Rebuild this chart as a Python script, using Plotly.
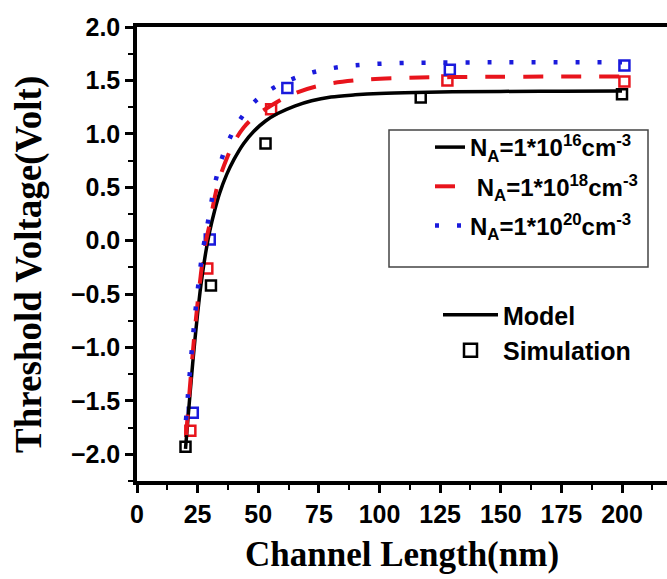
import plotly.graph_objects as go

# Model curves
x_m16 = [20, 21, 22, 23, 24, 25, 26, 27, 28.5, 30, 32, 34, 37, 40, 44, 48, 53, 58, 65, 72, 80, 90, 100, 115, 130, 150, 175, 200]
y_m16 = [-1.95, -1.67, -1.40, -1.14, -0.90, -0.68, -0.48, -0.31, -0.09, 0.09, 0.28, 0.44, 0.62, 0.76, 0.91, 1.02, 1.12, 1.19, 1.26, 1.31, 1.345, 1.365, 1.378, 1.388, 1.393, 1.397, 1.399, 1.40]

x_m18 = [20.3, 21, 22, 23, 24, 25, 26, 27, 28.5, 30, 32, 34, 37, 40, 44, 49, 55, 63, 75, 90, 110, 130, 160, 200]
y_m18 = [-1.82, -1.60, -1.32, -1.05, -0.80, -0.58, -0.38, -0.20, 0.0, 0.16, 0.40, 0.58, 0.77, 0.92, 1.06, 1.17, 1.26, 1.36, 1.45, 1.50, 1.523, 1.531, 1.535, 1.536]

x_m20 = [20.2, 21, 22, 23, 24, 25, 26, 27, 28.5, 30, 32, 35, 38.5, 43, 49, 57, 66, 75, 85, 95, 110, 130, 160, 200]
y_m20 = [-1.68, -1.45, -1.18, -0.92, -0.68, -0.47, -0.28, -0.11, 0.08, 0.27, 0.52, 0.77, 0.97, 1.15, 1.31, 1.44, 1.53, 1.59, 1.63, 1.65, 1.663, 1.668, 1.67, 1.67]

# Simulation points
x_s16 = [20, 30.5, 53, 117, 200]
y_s16 = [-1.93, -0.42, 0.91, 1.34, 1.37]
x_s18 = [22, 29, 55.3, 128, 201]
y_s18 = [-1.78, -0.26, 1.23, 1.50, 1.49]
x_s20 = [23, 30, 62, 129, 201]
y_s20 = [-1.61, 0.01, 1.43, 1.60, 1.64]

names = ["N<sub>A</sub>=1*10<sup>16</sup>cm<sup>-3</sup>",
         " N<sub>A</sub>=1*10<sup>18</sup>cm<sup>-3</sup>",
         "N<sub>A</sub>=1*10<sup>20</sup>cm<sup>-3</sup>"]

BLACK = "#000000"
RED = "#e8141c"
BLUE = "#1a1adc"

fig = go.Figure()

# simulation markers
for xs, ys, c in [(x_s16, y_s16, BLACK), (x_s18, y_s18, RED), (x_s20, y_s20, BLUE)]:
    fig.add_trace(go.Scatter(x=xs, y=ys, mode="markers", showlegend=False,
                             marker=dict(symbol="square-open", size=10, color=c,
                                         line=dict(width=2.5, color=c))))

fig.add_trace(go.Scatter(x=x_m16, y=y_m16, mode="lines", name=names[0], legendgroup="a",
                         line=dict(color=BLACK, width=3.5, shape="spline"), legend="legend"))
fig.add_trace(go.Scatter(x=x_m18, y=y_m18, mode="lines", name=names[1], legendgroup="b",
                         line=dict(color=RED, width=4, dash="20px,18px", shape="spline"), legend="legend"))
fig.add_trace(go.Scatter(x=x_m20, y=y_m20, mode="lines", name=names[2], legendgroup="c",
                         line=dict(color=BLUE, width=4.5, dash="4px,18px", shape="spline"), legend="legend"))

# second legend
fig.add_trace(go.Scatter(x=[None], y=[None], mode="lines", name="Model",
                         line=dict(color=BLACK, width=3.5), legend="legend2"))
fig.add_trace(go.Scatter(x=[None], y=[None], mode="markers", name="Simulation",
                         marker=dict(symbol="square-open", size=13, color=BLACK,
                                     line=dict(width=2.5, color=BLACK)), legend="legend2"))

L, R, T, B = 137, 0, 27, 98
W, H = 667, 579
pw, ph = W - L - R, H - T - B

def px(xp):
    return (xp - L) / pw

def py(yp):
    return (H - B - yp) / ph

tickfont = dict(family="Liberation Sans, Arial", size=25, color="black", weight="bold")
titlefont = dict(family="Liberation Serif, Times New Roman", size=35, color="black", weight="bold")

fig.update_layout(
    width=W, height=H, margin=dict(l=L, r=R, t=T, b=B),
    paper_bgcolor="white", plot_bgcolor="white",
    xaxis=dict(range=[0, (W - L) / 2.425], showgrid=False, zeroline=False,
               showline=True, linewidth=3.5, linecolor="black", mirror=True,
               ticks="outside", ticklen=8, tickwidth=2.5, tickcolor="black",
               tick0=0, dtick=25, tickfont=tickfont,
               minor=dict(ticks="outside", ticklen=5, tickwidth=2, tickcolor="black", dtick=12.5, tick0=0),
               title=dict(text="Channel Length(nm)", font=titlefont, standoff=16)),
    yaxis=dict(range=[-2.25, 2.0], showgrid=False, zeroline=False,
               showline=True, linewidth=3.5, linecolor="black", mirror=False,
               ticks="outside", ticklen=8, tickwidth=2.5, tickcolor="black",
               tick0=-2, dtick=0.5, tickformat=".1f", tickfont=tickfont,
               minor=dict(ticks="outside", ticklen=5, tickwidth=2, tickcolor="black", dtick=0.25, tick0=-2)),
    annotations=[dict(text="Threshold Voltage(Volt)", xref="paper", yref="paper",
                      x=px(29), y=py(265), xanchor="center", yanchor="middle",
                      textangle=-90, showarrow=False,
                      font=dict(family="Liberation Serif, Times New Roman", size=37,
                                color="black", weight="bold"))],
    legend=dict(x=px(430), y=py(125), xanchor="left", yanchor="top",
                bgcolor="rgba(0,0,0,0)", borderwidth=0, tracegroupgap=5,
                font=dict(family="Liberation Sans, Arial", size=24, color="black", weight="bold")),
    legend2=dict(x=px(438), y=py(292), xanchor="left", yanchor="top",
                 bgcolor="rgba(0,0,0,0)", borderwidth=0, itemwidth=55,
                 font=dict(family="Liberation Sans, Arial", size=25, color="black", weight="bold")),
    shapes=[dict(type="rect", xref="paper", yref="paper",
                 x0=px(389), x1=px(648), y0=py(267), y1=py(130),
                 line=dict(color="#444444", width=1.5), fillcolor="rgba(0,0,0,0)")],
)

fig.write_html("out.html")
